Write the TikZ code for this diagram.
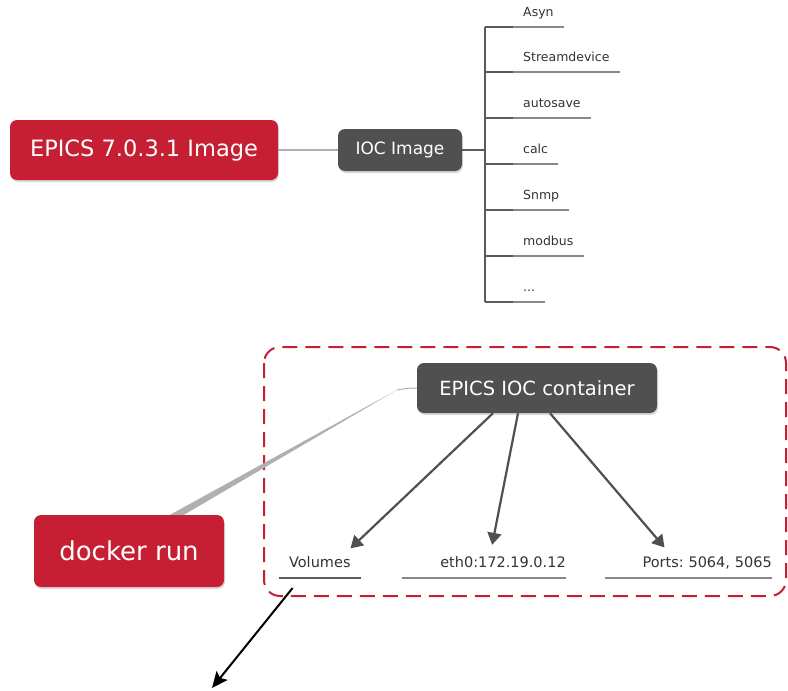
\documentclass[tikz,border=0pt]{standalone}
\usepackage{fontspec}
\setmainfont{DejaVu Sans}
\usetikzlibrary{arrows.meta,shadows}
\definecolor{epicsred}{HTML}{C61F33}
\definecolor{boxgrey}{HTML}{505050}
\definecolor{linkgrey}{HTML}{B0B0B0}
\definecolor{treegrey}{HTML}{5A5A5A}
\definecolor{ulgrey}{HTML}{888888}
\frenchspacing
\tikzset{
  boxshadow/.style={drop shadow={shadow xshift=1pt, shadow yshift=-2pt, opacity=0.3}},
  redbox/.style={fill=epicsred, text=white, rounded corners=7pt, boxshadow},
  greybox/.style={fill=boxgrey, text=white, rounded corners=7pt, boxshadow},
  leaf/.style={anchor=south west, inner xsep=10pt, inner ysep=0pt, text height=10pt,
    text depth=10pt, text=black!80, font=\fontsize{12.5}{14}\selectfont},
  botleaf/.style={anchor=south east, inner sep=0pt, align=right, text height=11pt,
    text depth=10pt, text=black!80, font=\fontsize{14.5}{16}\selectfont},
  treeline/.style={draw=treegrey, line width=1.6pt},
  uline/.style={draw=ulgrey, line width=1.3pt},
  subarrow/.style={draw=boxgrey, line width=2.2pt, shorten >=12pt,
    -{Triangle[length=12pt,width=14pt]}},
}
\begin{document}
\begin{tikzpicture}[x=1pt, y=-1pt]
    \useasboundingbox (0,0) rectangle (788,691);
        % image and its modules
        \node[redbox, minimum width=268, minimum height=60, font=\fontsize{22.5}{26}\selectfont] (epics) at (144,150) {EPICS 7.0.3.1 Image};
        \node[greybox, minimum width=124, minimum height=42, font=\fontsize{17}{20}\selectfont] (ioc) at (400,150) {IOC Image};
        \coordinate (trunk) at ([xshift=23pt]ioc.east);
        \node[leaf] (asyn) at (513,27) {Asyn};
        \node[leaf] (sdev) at (513,72) {Streamdevice};
        \node[leaf] (asave) at (513,118) {autosave};
        \node[leaf] (calc) at (513,164) {calc};
        \node[leaf] (snmp) at (513,210) {Snmp};
        \node[leaf] (modbus) at (513,256) {modbus};
        \node[leaf] (more) at (513,302) {...};
        \draw[draw=linkgrey, line width=1.5pt] (epics.east) -- (ioc.west);
        \draw[treeline] (ioc.east) -- (trunk);
        \draw[treeline] (trunk |- asyn.south) -- (trunk |- more.south);
        \draw[treeline] (trunk |- asyn.south) -- (asyn.south west);   \draw[uline] (asyn.south west) -- (asyn.south east);
        \draw[treeline] (trunk |- sdev.south) -- (sdev.south west);   \draw[uline] (sdev.south west) -- (sdev.south east);
        \draw[treeline] (trunk |- asave.south) -- (asave.south west); \draw[uline] (asave.south west) -- (asave.south east);
        \draw[treeline] (trunk |- calc.south) -- (calc.south west);   \draw[uline] (calc.south west) -- (calc.south east);
        \draw[treeline] (trunk |- snmp.south) -- (snmp.south west);   \draw[uline] (snmp.south west) -- (snmp.south east);
        \draw[treeline] (trunk |- modbus.south) -- (modbus.south west); \draw[uline] (modbus.south west) -- (modbus.south east);
        \draw[treeline] (trunk |- more.south) -- (more.south west);   \draw[uline] (more.south west) -- (more.south east);
        % the running container
        \draw[epicsred, line width=2pt, dash pattern=on 15pt off 8pt, rounded corners=16pt] (264,347) rectangle (786,596);
        \node[greybox, minimum width=240, minimum height=50, font=\fontsize{19.5}{23}\selectfont] (cont) at (537,388) {EPICS IOC container};
        \node[redbox, minimum width=190, minimum height=72, font=\fontsize{26}{30}\selectfont] (dock) at (129,551) {docker run};
        \node[botleaf, text width=82, align=center] (vol) at (361,578) {Volumes};
        \node[botleaf, text width=164] (eth) at (566,578) {eth0:172.19.0.12};
        \node[botleaf, text width=167] (ports) at (772,578) {Ports: 5064, 5065};
        \draw[draw=treegrey, line width=1.3pt] (vol.south west) -- (vol.south east);
        \draw[uline] (eth.south west) -- (eth.south east);
        \draw[uline] (ports.south west) -- (ports.south east);
        \coordinate (bend) at ([xshift=-20pt,yshift=-2pt]cont.west);
        \fill[linkgrey] ([xshift=41pt]dock.north) -- (bend) -- ([xshift=55pt]dock.north) -- cycle;
        \draw[draw=linkgrey, line width=1pt, rounded corners=5pt] (bend) -- ([xshift=-8pt]cont.west) -- (cont.west);
        \draw[subarrow] ([xshift=-44pt]cont.south) -- ([xshift=22pt]vol.north);
        \draw[subarrow] ([xshift=-19pt]cont.south) -- ([xshift=6pt]eth.north);
        \draw[subarrow] ([xshift=13pt]cont.south) -- ([xshift=-16pt]ports.north);
        \coordinate (vout) at ([xshift=14pt,yshift=-10pt]vol.south west);
        \coordinate (drop) at (212,688);
        \draw[line width=2pt, -{Stealth[length=16pt,width=14pt,inset=3pt]}] (vout) -- (drop);
    \end{tikzpicture}
\end{document}
